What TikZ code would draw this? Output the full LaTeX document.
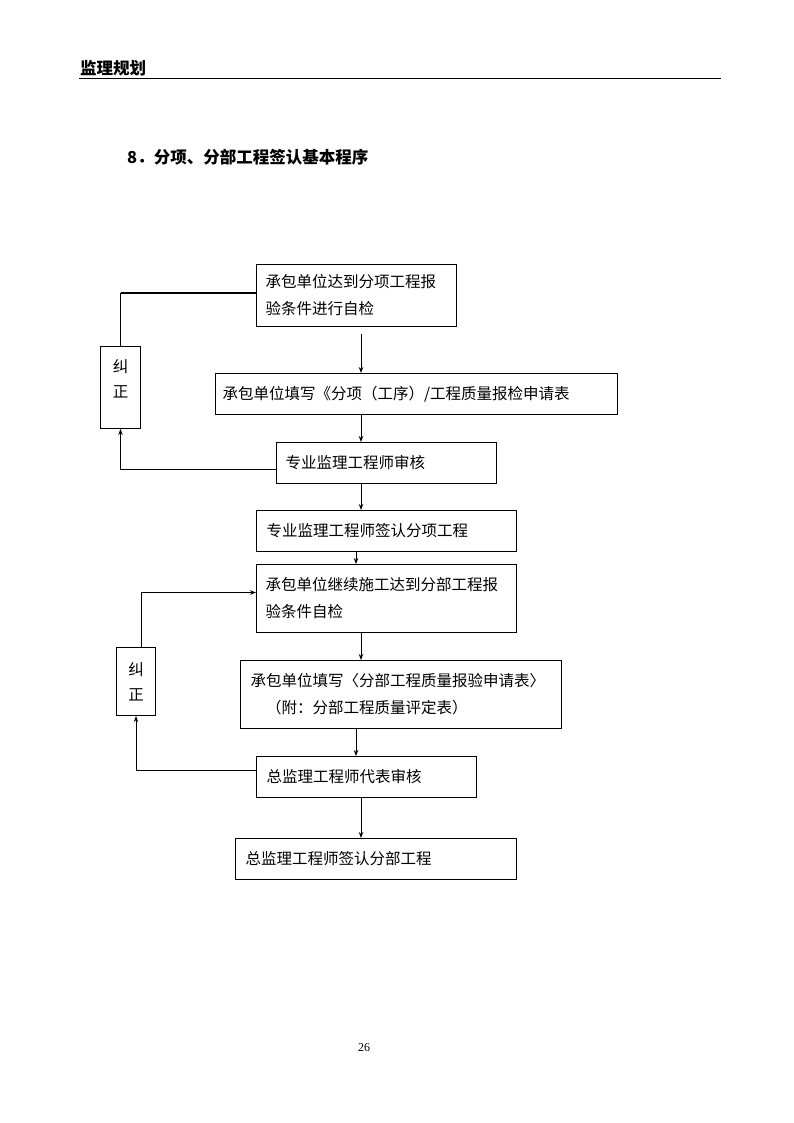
\documentclass[tikz,border=0pt]{standalone}
\usepackage{fontspec}
\newfontfamily\cjk{Noto Sans CJK SC}
\newfontfamily\numfont{Liberation Serif}
\usetikzlibrary{shapes.geometric, arrows, arrows.meta}
\tikzstyle{box} = [rectangle, draw=black, line width=1pt, anchor=north west, align=left, inner xsep=9pt, font=\cjk\fontsize{15.5}{27}\selectfont]
\tikzstyle{jiu} = [rectangle, draw=black, line width=1pt, anchor=north west, align=center, inner sep=0pt, font=\cjk\fontsize{15.5}{25}\selectfont]
\tikzstyle{arrow} = [line width=1pt,->,>={Stealth[length=6pt,width=4.5pt]}]
\tikzstyle{line} = [draw, line width=1pt]

\begin{document}
\begin{tikzpicture}[x=1pt,y=-1pt]
		\useasboundingbox [fill=white] (0,0) rectangle (794,1123);
		% page head
		\node (kopf) [anchor=west, inner sep=0pt, font=\cjk\bfseries\fontsize{16.5}{18}\selectfont] at (80,68) {监理规划};
		\coordinate (kl) at (79,79);
		\coordinate (kr) at (721,79);
		\draw [line] (kl) -- (kr);
		\node (titel) [anchor=west, inner sep=0pt, font=\cjk\bfseries\fontsize{16.5}{18}\selectfont] at (127,157) {8．分项、分部工程签认基本程序};
		% flow
		\node (zijian) [box, minimum width=200pt, minimum height=62pt, text width=182pt] at (256,264) {承包单位达到分项工程报\\验条件进行自检};
		\node (shenqing) [box, inner xsep=7pt, minimum width=402pt, minimum height=41pt, text width=388pt] at (215,373) {承包单位填写《分项（工序）/工程质量报检申请表};
		\node (shenhe) [box, minimum width=220pt, minimum height=41pt, text width=202pt] at (276,442) {专业监理工程师审核};
		\node (qianren) [box, inner xsep=10pt, minimum width=260pt, minimum height=41pt, text width=240pt] at (256,510) {专业监理工程师签认分项工程};
		\node (fenbu) [box, minimum width=260pt, minimum height=68pt, text width=242pt] at (256,564) {承包单位继续施工达到分部工程报\\验条件自检};
		\node (baoyan) [box, inner xsep=10pt, minimum width=321pt, minimum height=68pt, text width=301pt] at (240,660) {承包单位填写〈分部工程质量报验申请表〉\\\hspace*{1em}（附：分部工程质量评定表）};
		\node (zongshen) [box, inner xsep=10pt, minimum width=220pt, minimum height=41pt, text width=200pt] at (256,756) {总监理工程师代表审核};
		\node (zongqian) [box, inner xsep=10pt, minimum width=281pt, minimum height=41pt, text width=261pt] at (235,838) {总监理工程师签认分部工程};
		\node (jiu1) [jiu, minimum width=40pt, minimum height=82pt, text depth=18pt] at (100,346) {纠\\正};
		\node (jiu2) [jiu, minimum width=39pt, minimum height=68pt] at (116,647) {纠\\正};
		\coordinate (ma) at (361,0);
		\coordinate (mb) at (356,0);
		\draw [arrow, shorten <=7pt] (zijian.south -| ma) -- (shenqing.north -| ma);
		\draw [arrow] (shenqing.south -| ma) -- (shenhe.north -| ma);
		\draw [arrow] (shenhe.south -| ma) -- (qianren.north -| ma);
		\draw [arrow] (qianren.south -| mb) -- (fenbu.north -| mb);
		\draw [arrow] (fenbu.south -| ma) -- (baoyan.north -| ma);
		\draw [arrow] (baoyan.south -| mb) -- (zongshen.north -| mb);
		\draw [arrow] (zongshen.south -| ma) -- (zongqian.north -| ma);
		% correction loops
		\draw [arrow] ([yshift=-6.5pt]shenhe.west) -| (jiu1.south);
		\coordinate (ra) at ([yshift=3pt]zijian.west);
		\draw [line] (jiu1.north) -- (jiu1.north |- ra);
		\draw [draw, line width=2pt] (jiu1.north |- ra) -- (ra);
		\draw [arrow] ([xshift=5pt]jiu2.north) |- ([yshift=6pt]fenbu.west);
		\draw [arrow] ([yshift=6.5pt]zongshen.west) -| (jiu2.south);
		% page number
		\node (seite) [inner sep=0pt, font=\numfont\fontsize{12}{14}\selectfont] at (364,1048) {26};
	\end{tikzpicture}
\end{document}
